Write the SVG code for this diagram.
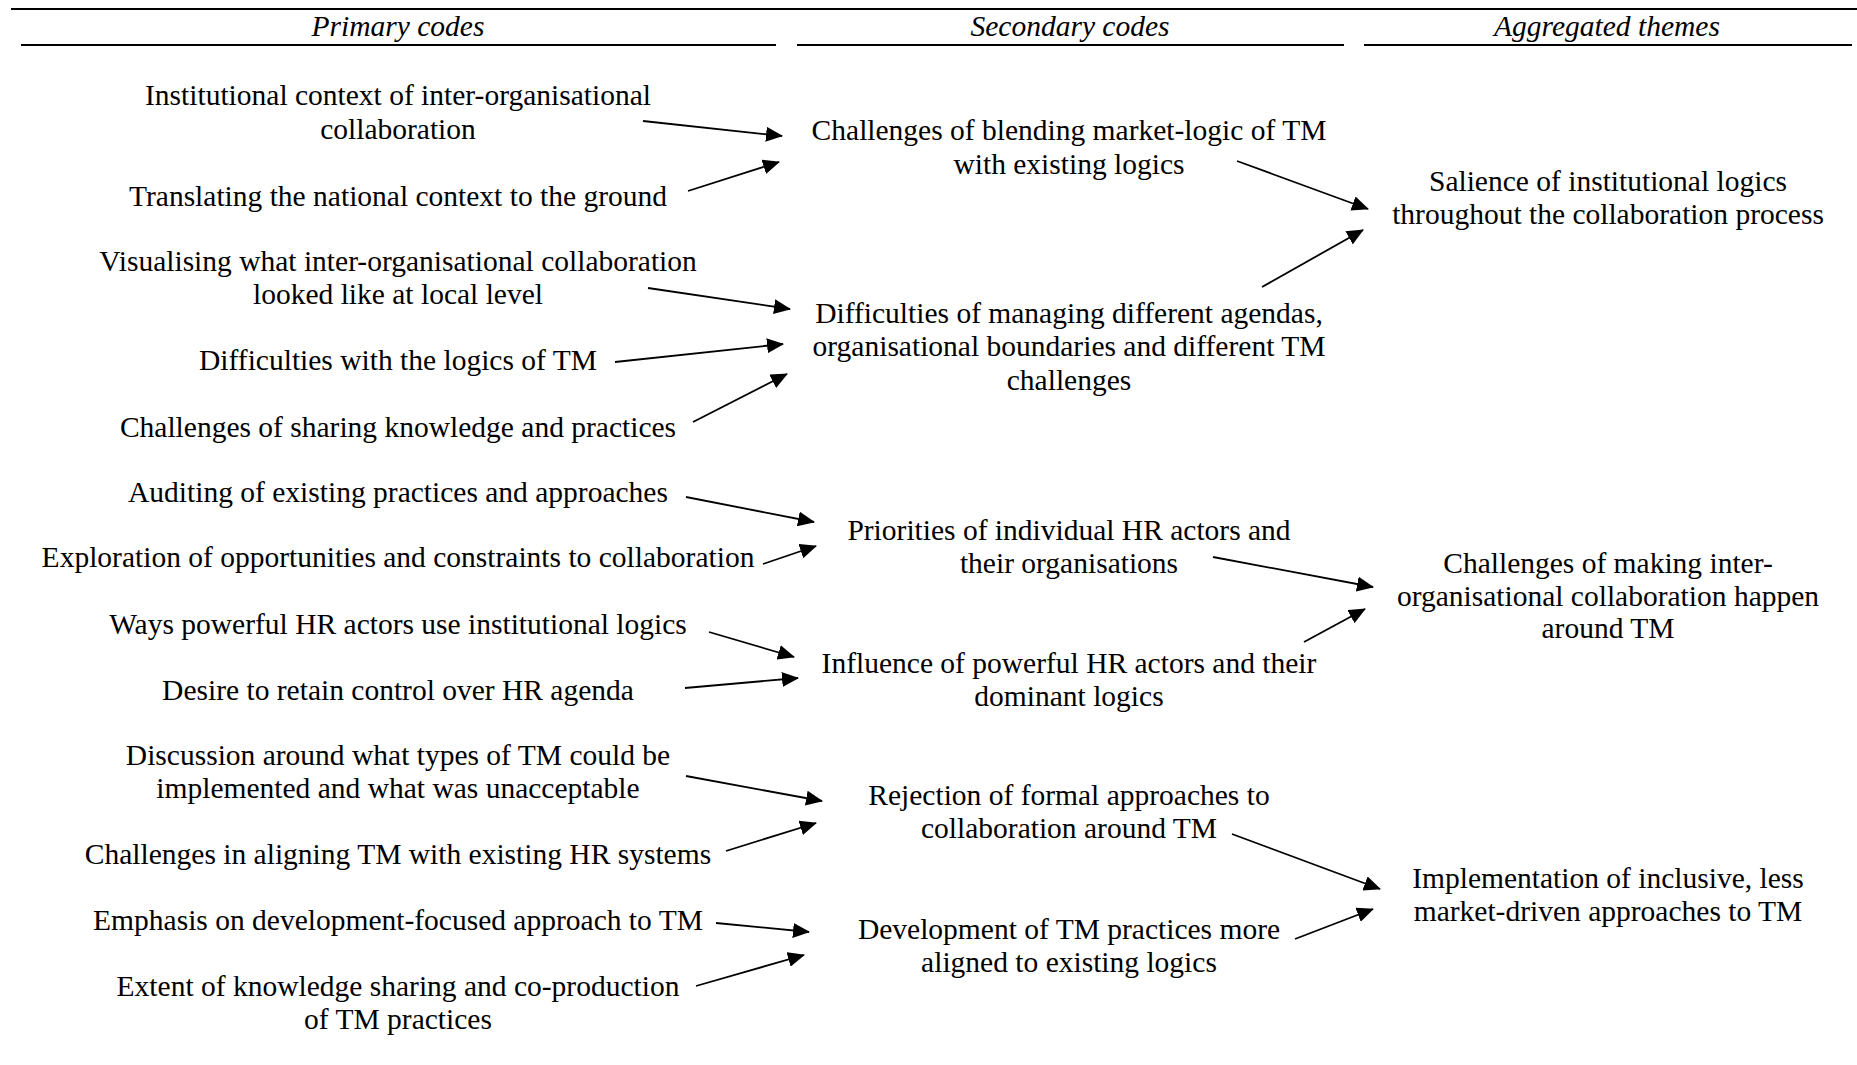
<svg xmlns="http://www.w3.org/2000/svg" width="1857" height="1065" viewBox="0 0 1857 1065">
<style>
text{font-family:"Liberation Serif","Times New Roman",serif;font-size:29.5px;fill:#000;text-anchor:middle}
.h{font-style:italic}
.rule{stroke:#000;stroke-width:2}
.c line{stroke:#000;stroke-width:1.8;marker-end:url(#ah)}
</style>
<defs>
<marker id="ah" markerUnits="userSpaceOnUse" markerWidth="17" markerHeight="15" refX="16" refY="7.5" orient="auto" viewBox="0 0 17 15">
<path d="M0,0 L17,7.5 L0,15 z" fill="#000"/>
</marker>
</defs>
<rect width="1857" height="1065" fill="#fff"/>
<g id="headers">
<line class="rule" x1="11" y1="9" x2="1857" y2="9"/>
<line class="rule" x1="21" y1="45" x2="776" y2="45"/>
<line class="rule" x1="797" y1="45" x2="1344" y2="45"/>
<line class="rule" x1="1364" y1="45" x2="1852" y2="45"/>
<text class="h" x="398" y="36">Primary codes</text>
<text class="h" x="1070" y="36">Secondary codes</text>
<text class="h" x="1607" y="36">Aggregated themes</text>
</g>
<g id="p1"><text x="398" y="105">Institutional context of inter-organisational</text><text x="398" y="139">collaboration</text></g>
<g id="p2"><text x="398" y="206">Translating the national context to the ground</text></g>
<g id="p3"><text x="398" y="271">Visualising what inter-organisational collaboration</text><text x="398" y="304">looked like at local level</text></g>
<g id="p4"><text x="398" y="370">Difficulties with the logics of TM</text></g>
<g id="p5"><text x="398" y="437">Challenges of sharing knowledge and practices</text></g>
<g id="p6"><text x="398" y="502">Auditing of existing practices and approaches</text></g>
<g id="p7"><text x="398" y="567">Exploration of opportunities and constraints to collaboration</text></g>
<g id="p8"><text x="398" y="634">Ways powerful HR actors use institutional logics</text></g>
<g id="p9"><text x="398" y="700">Desire to retain control over HR agenda</text></g>
<g id="p10"><text x="398" y="765">Discussion around what types of TM could be</text><text x="398" y="798">implemented and what was unacceptable</text></g>
<g id="p11"><text x="398" y="864">Challenges in aligning TM with existing HR systems</text></g>
<g id="p12"><text x="398" y="930">Emphasis on development-focused approach to TM</text></g>
<g id="p13"><text x="398" y="996">Extent of knowledge sharing and co-production</text><text x="398" y="1029">of TM practices</text></g>
<g id="s1"><text x="1069" y="140">Challenges of blending market-logic of TM</text><text x="1069" y="174">with existing logics</text></g>
<g id="s2"><text x="1069" y="323">Difficulties of managing different agendas,</text><text x="1069" y="356">organisational boundaries and different TM</text><text x="1069" y="390">challenges</text></g>
<g id="s3"><text x="1069" y="540">Priorities of individual HR actors and</text><text x="1069" y="573">their organisations</text></g>
<g id="s4"><text x="1069" y="673">Influence of powerful HR actors and their</text><text x="1069" y="706">dominant logics</text></g>
<g id="s5"><text x="1069" y="805">Rejection of formal approaches to</text><text x="1069" y="838">collaboration around TM</text></g>
<g id="s6"><text x="1069" y="939">Development of TM practices more</text><text x="1069" y="972">aligned to existing logics</text></g>
<g id="a1"><text x="1608" y="191">Salience of institutional logics</text><text x="1608" y="224">throughout the collaboration process</text></g>
<g id="a2"><text x="1608" y="573">Challenges of making inter-</text><text x="1608" y="606">organisational collaboration happen</text><text x="1608" y="638">around TM</text></g>
<g id="a3"><text x="1608" y="888">Implementation of inclusive, less</text><text x="1608" y="921">market-driven approaches to TM</text></g>
<g id="connectors" class="c">
<line x1="643" y1="121" x2="782" y2="136"/>
<line x1="688" y1="191" x2="779" y2="162"/>
<line x1="648" y1="288" x2="790" y2="309"/>
<line x1="615" y1="362" x2="783" y2="344"/>
<line x1="693" y1="422" x2="787" y2="374"/>
<line x1="686" y1="497" x2="814" y2="522"/>
<line x1="763" y1="564" x2="816" y2="546"/>
<line x1="709" y1="632" x2="794" y2="657"/>
<line x1="685" y1="688" x2="798" y2="678"/>
<line x1="686" y1="776" x2="822" y2="801"/>
<line x1="726" y1="851" x2="816" y2="823"/>
<line x1="716" y1="923" x2="809" y2="932"/>
<line x1="696" y1="986" x2="804" y2="955"/>
<line x1="1237" y1="161" x2="1368" y2="209"/>
<line x1="1262" y1="287" x2="1363" y2="230"/>
<line x1="1213" y1="557" x2="1373" y2="587"/>
<line x1="1304" y1="642" x2="1365" y2="609"/>
<line x1="1232" y1="834" x2="1380" y2="889"/>
<line x1="1295" y1="939" x2="1373" y2="909"/>
</g>
</svg>
